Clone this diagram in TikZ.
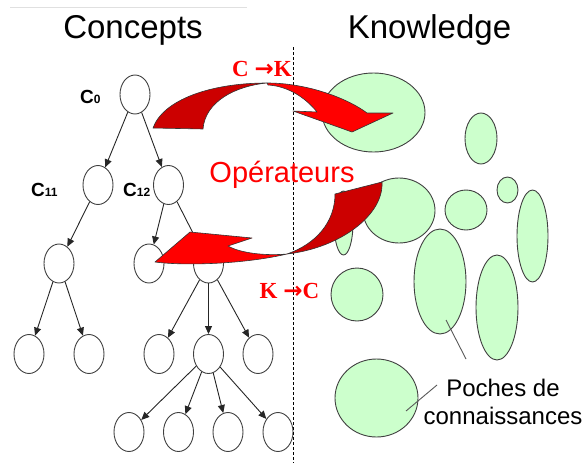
\documentclass[tikz,border=0pt]{standalone}
\usepackage{fontspec}
\setmainfont{Liberation Sans}
\newfontfamily\serifbold{Liberation Serif}
\newfontfamily\arrowfont{DejaVu Sans}
\usetikzlibrary{shapes.geometric,arrows.meta}
\definecolor{grn}{HTML}{CCFFCC}
\definecolor{darkred}{HTML}{CC0000}
\definecolor{brightred}{HTML}{FF0000}
\newcommand{\bigarr}{{\arrowfont\bfseries →}}
\begin{document}
\begin{tikzpicture}[x=1pt,y=-1pt,
  tnode/.style={ellipse,draw=black!75,line width=0.9pt,fill=white,minimum width=30pt,minimum height=39pt,inner sep=0pt},
  gell/.style={ellipse,draw=black!75,line width=0.9pt,fill=grn,inner sep=0pt},
  tedge/.style={draw=black!85,line width=0.9pt,-{Triangle[length=8pt,width=7pt]}},
  ribbonback/.style={fill=darkred,draw=black!80,line width=0.6pt,line join=round},
  ribbonfront/.style={fill=brightred,draw=black!80,line width=0.6pt,line join=round},
  clabel/.style={anchor=base west,inner sep=0pt,font=\bfseries\fontsize{19}{19}\selectfont},
  title/.style={anchor=base,inner sep=0pt,font=\fontsize{33}{33}\selectfont},
  redlabel/.style={anchor=base,inner sep=0pt,text=brightred,font=\serifbold\bfseries\fontsize{23}{23}\selectfont},
  pointer/.style={draw=black!65,line width=0.9pt}]
\useasboundingbox (0,0) rectangle (583,463);
% header rule
\coordinate (hl1) at (10,7);
\coordinate (hl2) at (247,7);
\draw[black!12,line width=1pt] (hl1) -- (hl2);
% titles
\node[title] (tconcepts) at (133,38) {Concepts};
\node[title] (tknow) at (429.5,38) {Knowledge};
% tree nodes
\node[tnode] (c0) at (135,94.5) {};
\node[tnode] (c11) at (98,185) {};
\node[tnode] (c12) at (168.5,185) {};
\node[tnode] (n3a) at (59,263.5) {};
\node[tnode] (n3b) at (149,263.5) {};
\node[tnode] (n3c) at (208.5,263.5) {};
\node[tnode] (n4a) at (29,354) {};
\node[tnode] (n4b) at (89,354) {};
\node[tnode] (n4c) at (159,354) {};
\node[tnode] (n4d) at (208.5,354) {};
\node[tnode] (n4e) at (258,354) {};
\node[tnode] (n5a) at (129,432) {};
\node[tnode] (n5b) at (178.5,432) {};
\node[tnode] (n5c) at (228,432) {};
\node[tnode] (n5d) at (278,432) {};
% tree edges
\draw[tedge] (c0) -- (c11);
\draw[tedge] (c0) -- (c12);
\draw[tedge] (c11) -- (n3a);
\draw[tedge] (c12) -- (n3b);
\draw[tedge] (c12) -- (n3c);
\draw[tedge] (n3a) -- (n4a);
\draw[tedge] (n3a) -- (n4b);
\draw[tedge] (n3c) -- (n4c);
\draw[tedge] (n3c) -- (n4d);
\draw[tedge] (n3c) -- (n4e);
\draw[tedge] (n4d) -- (n5a);
\draw[tedge] (n4d) -- (n5b);
\draw[tedge] (n4d) -- (n5c);
\draw[tedge] (n4d) -- (n5d);
% concept labels
\node[clabel] (lc0) at (80,103) {C{\fontsize{12}{12}\selectfont 0}};
\node[clabel] (lc11) at (31,196) {C{\fontsize{12}{12}\selectfont 11}};
\node[clabel] (lc12) at (123,196) {C{\fontsize{12}{12}\selectfont 12}};
% knowledge pockets
\node[gell,minimum width=103pt,minimum height=79pt] (e1) at (373.5,112.5) {};
\node[gell,minimum width=32pt,minimum height=51pt] (e2) at (481,138.5) {};
\node[gell,minimum width=19pt,minimum height=64pt] (e11) at (343.5,223) {};
\node[gell,minimum width=72pt,minimum height=65pt] (e3) at (399,210.5) {};
\node[gell,minimum width=42pt,minimum height=40pt] (e4) at (466,210) {};
\node[gell,minimum width=21pt,minimum height=26pt] (e5) at (507.5,190) {};
\node[gell,minimum width=31pt,minimum height=92pt] (e6) at (532.5,236) {};
\node[gell,minimum width=52pt,minimum height=105pt] (e7) at (440,281.5) {};
\node[gell,minimum width=42pt,minimum height=105pt] (e8) at (497,307.5) {};
\node[gell,minimum width=52pt,minimum height=53pt] (e9) at (357,294.5) {};
\node[gell,minimum width=83pt,minimum height=78pt] (e10) at (376.5,398) {};
% dashed separator
\coordinate (dtop) at (293,47);
\coordinate (dbot) at (293,463);
\draw[black,line width=0.8pt,dash pattern=on 3pt off 2pt] (dtop) -- (dbot);
% operator arrow C -> K
\draw[ribbonback] (153,128) .. controls (163,100) and (210,83) .. (267,83)
  .. controls (235,86) and (205,102) .. (203,129) -- cycle;
\draw[ribbonfront] (267,83) .. controls (310,83) and (350,100) .. (367,113)
  -- (393,113) -- (352,132) -- (293,111) -- (317,112)
  .. controls (305,97) and (287,86) .. (268,85) -- cycle;
% operator arrow K -> C
\draw[ribbonback] (335,194) -- (382,182) .. controls (384,215) and (340,248) .. (287,254)
  .. controls (316,244) and (335,222) .. (335,194) -- cycle;
\draw[ribbonfront] (287,254) .. controls (245,264) and (185,266) .. (155,262)
  -- (190,232) -- (252,238) -- (228,246)
  .. controls (240,253) and (265,256) .. (287,254) -- cycle;
% operator labels
\node[redlabel] (lck) at (262,76) {C \bigarr{}K};
\node[redlabel] (lkc) at (289.5,298) {K \bigarr{}C};
\node[anchor=base,inner sep=0pt,text=brightred,font=\fontsize{29}{29}\selectfont] (lop) at (282,182) {Opérateurs};
% pockets label
\node[align=center,inner sep=0pt,font=\fontsize{24}{28}\selectfont] (poches) at (503,402) {Poches de\\connaissances};
\coordinate (p1) at (466,359);
\coordinate (p1e) at (446,320);
\coordinate (p2) at (437,385);
\coordinate (p2e) at (406,411);
\draw[pointer] (p1) -- (p1e);
\draw[pointer] (p2) -- (p2e);
\end{tikzpicture}
\end{document}
